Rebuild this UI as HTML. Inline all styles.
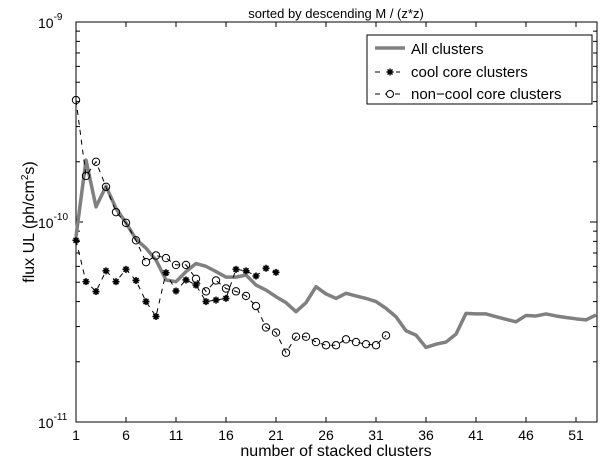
<!DOCTYPE html>
<html><head><meta charset="utf-8"><style>
body{margin:0;background:#fff;}
svg{display:block;font-family:"Liberation Sans",Arial,sans-serif;}
</style></head><body>
<svg id="chart" width="600" height="460">
  <rect x="0" y="0" width="600" height="460" fill="#fff"/>
  <text x="336" y="18" font-size="13" text-anchor="middle">sorted by descending M / (z*z)</text>
  <g id="axes"></g>
  <g id="series"></g>
  <text x="336" y="456" font-size="16" text-anchor="middle">number of stacked clusters</text>
  <text transform="translate(34,222) rotate(-90)" font-size="16" text-anchor="middle">flux UL (ph/cm<tspan font-size="10" dy="-6">2</tspan><tspan dy="6">s)</tspan></text>
  <g id="legend">
    <rect x="367" y="35" width="225" height="69" fill="#fff" stroke="#000" stroke-width="1"/>
    <line x1="375" y1="48" x2="405" y2="48" stroke="#808080" stroke-width="3.5"/>
    <text x="411" y="54" font-size="15">All clusters</text>
    <line x1="375" y1="72" x2="405" y2="72" stroke="#000" stroke-width="1" stroke-dasharray="5,5"/>
    <rect x="384" y="66" width="12" height="12" fill="#fff"/>
    <text x="411" y="77" font-size="15">cool core clusters</text>
    <line x1="375" y1="94" x2="405" y2="94" stroke="#000" stroke-width="1" stroke-dasharray="5,5"/>
    <circle cx="390" cy="94" r="3.5" fill="#fff" stroke="#000"/>
    <text x="411" y="99" font-size="15">non−cool core clusters</text>
  </g>
</svg>
<script>
const allN = [];
for (let i = 1; i <= 53; i++) allN.push(i);
const allValues = [8.45e-11,2.04e-10,1.19e-10,1.51e-10,1.17e-10,9.9e-11,8.2e-11,7.4e-11,6.45e-11,5.13e-11,5.03e-11,5.65e-11,6.2e-11,6.0e-11,5.65e-11,5.3e-11,5.3e-11,5.43e-11,4.84e-11,4.57e-11,4.23e-11,3.95e-11,3.56e-11,3.95e-11,4.75e-11,4.37e-11,4.15e-11,4.4e-11,4.27e-11,4.15e-11,4.0e-11,3.7e-11,3.36e-11,2.86e-11,2.72e-11,2.36e-11,2.45e-11,2.51e-11,2.75e-11,3.49e-11,3.47e-11,3.47e-11,3.36e-11,3.26e-11,3.17e-11,3.41e-11,3.39e-11,3.47e-11,3.39e-11,3.33e-11,3.28e-11,3.24e-11,3.43e-11];
const coolValues = [8.1e-11,5.03e-11,4.49e-11,5.7e-11,5.03e-11,5.8e-11,5.1e-11,4.0e-11,3.37e-11,5.58e-11,4.52e-11,5.13e-11,4.84e-11,4.0e-11,4.07e-11,4.15e-11,5.8e-11,5.7e-11,5.37e-11,5.87e-11,5.6e-11];
const nonCoolValues = [4.07e-10,1.70e-10,2.0e-10,1.5e-10,1.12e-10,9.9e-11,8.1e-11,6.3e-11,6.8e-11,6.6e-11,6.1e-11,6.1e-11,5.2e-11,4.5e-11,5.1e-11,4.65e-11,4.5e-11,4.27e-11,3.8e-11,2.97e-11,2.8e-11,2.22e-11,2.67e-11,2.67e-11,2.51e-11,2.42e-11,2.42e-11,2.59e-11,2.51e-11,2.45e-11,2.42e-11,2.71e-11];
const xTicks = [1,6,11,16,21,26,31,36,41,46,51];
const yDecades = [-11,-10,-9];

const L=76,R=597,T=22,B=422;
const xMin=1,xMax=53.1;
function xs(n){return L+(n-xMin)/(xMax-xMin)*(R-L);}
function ys(v){return T+(-9-Math.log10(v))/2*(B-T);}
const NS="http://www.w3.org/2000/svg";
function mk(tag,attrs,parent){const e=document.createElementNS(NS,tag);for(const k in attrs)e.setAttribute(k,attrs[k]);parent.appendChild(e);return e;}
const axes=document.getElementById('axes');
const series=document.getElementById('series');
function starPath(x,y,r){
  const d=r*0.707;
  return 'M'+(x-r)+' '+y+'H'+(x+r)+'M'+x+' '+(y-r)+'V'+(y+r)+'M'+(x-d)+' '+(y-d)+'L'+(x+d)+' '+(y+d)+'M'+(x-d)+' '+(y+d)+'L'+(x+d)+' '+(y-d);
}

const frame=mk('rect',{x:L,y:T,width:R-L,height:B-T,fill:'none',stroke:'#000','stroke-width':1},axes);



xTicks.forEach(t=>{
  const x=xs(t);
  const a=mk('line',{x1:x,y1:B,x2:x,y2:B-5,stroke:'#000'},axes);
  
  
  const b=mk('line',{x1:x,y1:T,x2:x,y2:T+5,stroke:'#000'},axes);
  
  
  const tx=mk('text',{x:x,y:B+18,'font-size':14,'text-anchor':'middle'},axes);
  tx.textContent=t;
  
  
});
yDecades.forEach(d=>{
  const y=ys(Math.pow(10,d));
  const a=mk('line',{x1:L,y1:y,x2:L+7,y2:y,stroke:'#000'},axes);
  
  
  const b=mk('line',{x1:R,y1:y,x2:R-7,y2:y,stroke:'#000'},axes);
  
  
  const tx=mk('text',{x:L-38,y:y+6,'font-size':14},axes);
  tx.innerHTML='10<tspan font-size="10" dy="-8">'+d+'</tspan>';
  
  
  if(d<-9){for(let m=2;m<=9;m++){
    const yy=ys(m*Math.pow(10,d));
    const c=mk('line',{x1:L,y1:yy,x2:L+4,y2:yy,stroke:'#000'},axes);
    
    
    const e=mk('line',{x1:R,y1:yy,x2:R-4,y2:yy,stroke:'#000'},axes);
    
    
  }}
});

const lm=mk('path',{d:starPath(390,72,3.5),stroke:'#000','stroke-width':1.4,fill:'none'},document.getElementById('legend'));



function pts(vals){return vals.map((v,i)=>xs(allN[i])+','+ys(v)).join(' ');}
const gAll=mk('polyline',{points:pts(allValues),fill:'none',stroke:'#808080','stroke-width':3.5,'stroke-linejoin':'round'},series);



const gCool=mk('polyline',{points:pts(coolValues),fill:'none',stroke:'#000','stroke-width':1,'stroke-dasharray':'5,5'},series);


coolValues.forEach((v,i)=>{
  const s=mk('path',{d:starPath(xs(allN[i]),ys(v),3.5),stroke:'#000','stroke-width':1.6,fill:'none'},series);
  
  
});

const gNon=mk('polyline',{points:pts(nonCoolValues),fill:'none',stroke:'#000','stroke-width':1,'stroke-dasharray':'5,5'},series);


nonCoolValues.forEach((v,i)=>{
  const c=mk('circle',{cx:xs(allN[i]),cy:ys(v),r:3.7,fill:'none',stroke:'#000','stroke-width':1},series);
  
  
});
</script>
</body></html>
